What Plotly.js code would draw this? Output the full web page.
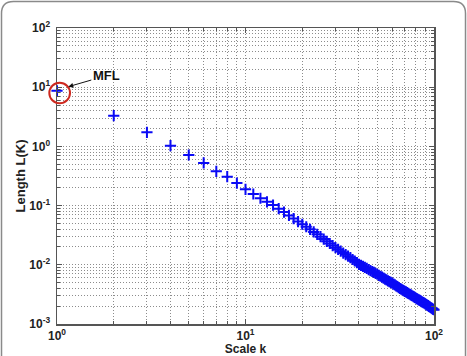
<!DOCTYPE html>
<html>
<head>
<meta charset="utf-8">
<script src="https://cdn.plot.ly/plotly-3.0.1.min.js"></script>
<style>
  html, body { margin: 0; padding: 0; background: #ffffff; }
  #plot { width: 467px; height: 356px; }
</style>
</head>
<body>
<div id="plot"></div>
<script>
// Scale values k = 1 ... 100
const scaleK = [
  1, 2, 3, 4, 5, 6, 7, 8, 9, 10,
  11, 12, 13, 14, 15, 16, 17, 18, 19, 20,
  21, 22, 23, 24, 25, 26, 27, 28, 29, 30,
  31, 32, 33, 34, 35, 36, 37, 38, 39, 40,
  41, 42, 43, 44, 45, 46, 47, 48, 49, 50,
  51, 52, 53, 54, 55, 56, 57, 58, 59, 60,
  61, 62, 63, 64, 65, 66, 67, 68, 69, 70,
  71, 72, 73, 74, 75, 76, 77, 78, 79, 80,
  81, 82, 83, 84, 85, 86, 87, 88, 89, 90,
  91, 92, 93, 94, 95, 96, 97, 98, 99, 100
];

// Length L(k) at each scale
const lengthL = [
  8.7, 3.30, 1.73, 1.03, 0.716, 0.525, 0.380, 0.308, 0.240, 0.188,
  0.157, 0.133, 0.116, 0.102, 0.0887, 0.0776, 0.0682, 0.0603, 0.0538, 0.0484,
  0.0439, 0.0398, 0.0359, 0.0327, 0.0299, 0.0272, 0.0249, 0.0229, 0.0211, 0.0195,
  0.0182, 0.0170, 0.0158, 0.0149, 0.0140, 0.0132, 0.0123, 0.0116, 0.0109, 0.0102,
  0.00980, 0.00940, 0.00902, 0.00867, 0.00832, 0.00800, 0.00771, 0.00743, 0.00718, 0.00692,
  0.00664, 0.00641, 0.00618, 0.00596, 0.00575, 0.00556, 0.00537, 0.00521, 0.00505, 0.00490,
  0.00473, 0.00457, 0.00442, 0.00427, 0.00412, 0.00398, 0.00388, 0.00377, 0.00366, 0.00357,
  0.00348, 0.00339, 0.00330, 0.00321, 0.00313, 0.00304, 0.00297, 0.00290, 0.00282, 0.00275,
  0.00269, 0.00262, 0.00256, 0.00251, 0.00245, 0.00239, 0.00233, 0.00229, 0.00224, 0.00219,
  0.00213, 0.00208, 0.00204, 0.00199, 0.00194, 0.00190, 0.00185, 0.00182, 0.00177, 0.00174
];

// Decade ticks and their labels
const xTickVals = [1, 10, 100];
const xTickText = ['10<sup>0</sup>', '10<sup>1</sup>', '10<sup>2</sup>'];
const yTickVals = [0.001, 0.01, 0.1, 1, 10, 100];
const yTickText = ['10<sup>-3</sup>', '10<sup>-2</sup>', '10<sup>-1</sup>',
                   '10<sup>0</sup>', '10<sup>1</sup>', '10<sup>2</sup>'];

// Minor (2..9 per decade) grid positions
const xMinorVals = [2, 3, 4, 5, 6, 7, 8, 9, 20, 30, 40, 50, 60, 70, 80, 90];
const yMinorVals = [
  0.002, 0.003, 0.004, 0.005, 0.006, 0.007, 0.008, 0.009,
  0.02, 0.03, 0.04, 0.05, 0.06, 0.07, 0.08, 0.09,
  0.2, 0.3, 0.4, 0.5, 0.6, 0.7, 0.8, 0.9,
  2, 3, 4, 5, 6, 7, 8, 9,
  20, 30, 40, 50, 60, 70, 80, 90
];

const font = 'Liberation Sans, Arial, sans-serif';
const gridColor = '#8c8c8c';
const gridDash = '1px,2px';

function axisStyle(extra) {
  return Object.assign({
    type: 'log',
    tickmode: 'array',
    showgrid: true,
    gridcolor: gridColor,
    griddash: gridDash,
    gridwidth: 1,
    zeroline: false,
    showline: true,
    linecolor: '#555555',
    linewidth: 1.5,
    mirror: 'ticks',
    ticks: 'inside',
    ticklen: 5,
    tickcolor: '#555555',
    tickfont: { family: font, size: 12, color: '#222222', weight: 'bold' }
  }, extra);
}

function minorStyle(vals) {
  return {
    tickmode: 'array',
    tickvals: vals,
    showgrid: true,
    gridcolor: gridColor,
    griddash: gridDash,
    gridwidth: 1,
    ticks: 'inside',
    ticklen: 3,
    tickcolor: '#555555'
  };
}

const trace = {
  x: scaleK,
  y: lengthL,
  type: 'scatter',
  mode: 'markers',
  cliponaxis: false,
  marker: {
    symbol: 'cross-thin-open',
    size: 8,
    color: 'rgb(10,10,245)',
    line: { width: 2, color: 'rgb(10,10,245)' }
  },
  hoverinfo: 'x+y'
};

const layout = {
  width: 467,
  height: 356,
  margin: { l: 57, r: 33, t: 28, b: 32 },
  paper_bgcolor: '#ffffff',
  plot_bgcolor: '#ffffff',
  showlegend: false,
  xaxis: axisStyle({
    range: [0, 2],
    tickvals: xTickVals,
    ticktext: xTickText,
    minor: minorStyle(xMinorVals),
    title: {
      text: 'Scale k',
      standoff: 6,
      font: { family: font, size: 12, color: '#222222', weight: 'bold' }
    }
  }),
  yaxis: axisStyle({
    range: [-3, 2],
    tickvals: yTickVals,
    ticktext: yTickText,
    ticklabelstandoff: 3,
    minor: minorStyle(yMinorVals),
    title: {
      text: 'Length L(K)',
      standoff: 0,
      font: { family: font, size: 13, color: '#222222', weight: 'bold' }
    }
  }),
  shapes: [
    // red ring around the first point
    {
      type: 'circle',
      xref: 'paper', yref: 'paper',
      x0: -0.0204, x1: 0.0345, y0: 0.7456, y1: 0.8152,
      line: { color: 'rgb(205,40,30)', width: 2 },
      fillcolor: 'rgba(0,0,0,0)'
    },
    // rounded outer frame
    {
      type: 'path',
      xref: 'paper', yref: 'paper',
      path: 'M -0.1472,-0.2 L -0.1472,1.049 Q -0.1472,1.0895 -0.1154,1.0895 ' +
            'L 1.0518,1.0895 Q 1.0836,1.0895 1.0836,1.049 L 1.0836,-0.2',
      line: { color: '#8a8a8a', width: 1.5 }
    }
  ],
  annotations: [
    {
      xref: 'paper', yref: 'paper',
      x: 0.030, y: 0.8017,
      ax: 38, ay: -11,
      text: 'MFL',
      showarrow: true,
      arrowhead: 2,
      arrowsize: 1,
      arrowwidth: 1,
      arrowcolor: '#111111',
      font: { family: font, size: 13, color: '#111111', weight: 'bold' }
    }
  ]
};

Plotly.newPlot('plot', [trace], layout, { displayModeBar: false, staticPlot: true });
</script>
</body>
</html>
